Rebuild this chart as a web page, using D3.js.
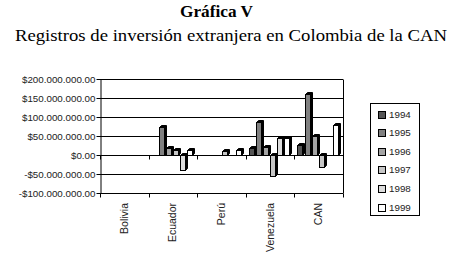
<!DOCTYPE html>
<html><head><meta charset="utf-8">
<script src="https://cdn.jsdelivr.net/npm/d3@7"></script>
<style>body{margin:0;background:#fff}svg{display:block}</style>
</head><body>
<script>
const categories = ["Bolivia", "Ecuador", "Perú", "Venezuela", "CAN"];
const years = ["1994", "1995", "1996", "1997", "1998", "1999"];
// values in millions of US$
const v1994 = [0, 0, 0, 18, 26];
const v1995 = [0, 74, 0, 88, 160];
const v1996 = [0, 18, 0, 22, 49];
const v1997 = [0, 14, 10, -55, -32];
const v1998 = [0, -39, 0, 44, 0];
const v1999 = [0, 13, 12, 44, 79];
const yTicks = [-100, -50, 0, 50, 100, 150, 200];
const colors = ["#555555", "#808080", "#a4a4a4", "#c6c6c6", "#dcdcdc", "#ffffff"];
const series = [v1994, v1995, v1996, v1997, v1998, v1999];

const W = 451, H = 270;
const svg = d3.select("body").append("svg").attr("width", W).attr("height", H);
svg.append("rect").attr("width", W).attr("height", H).attr("fill", "#fff");

svg.append("text").attr("x", 216.5).attr("y", 17).attr("text-anchor", "middle")
  .attr("font-family", "Liberation Serif").attr("font-weight", "bold").attr("font-size", 16)
  .attr("textLength", 73).attr("lengthAdjust", "spacingAndGlyphs")
  .text("Gráfica V");
svg.append("text").attr("x", 231).attr("y", 41).attr("text-anchor", "middle")
  .attr("font-family", "Liberation Serif").attr("font-size", 16)
  .attr("textLength", 432).attr("lengthAdjust", "spacingAndGlyphs")
  .text("Registros de inversión extranjera en Colombia de la CAN");

const x0 = 100, x1 = 343;
const y = d3.scaleLinear().domain([-100, 200]).range([193, 79]);
const x = d3.scaleBand().domain(categories).range([x0, x1]).padding(0);
const xs = d3.scaleBand().domain(years).range([0, x.bandwidth()]).paddingInner(0).paddingOuter(0.43);

function fmt(d) {
  if (d === 0) return "$0.00";
  const s = d3.format(",")(Math.abs(d) * 1000000).replace(/,/g, ".");
  return (d < 0 ? "-" : "") + "$" + s + ".00";
}

// gridlines
svg.append("g").selectAll("line").data(yTicks).join("line")
  .attr("x1", x0).attr("x2", x1).attr("y1", d => Math.round(y(d)) + 0.5).attr("y2", d => Math.round(y(d)) + 0.5)
  .attr("stroke", "#000").attr("stroke-width", 1);
// right border
svg.append("line").attr("x1", x1 + 0.5).attr("x2", x1 + 0.5).attr("y1", Math.round(y(200)) + 0.5).attr("y2", Math.round(y(-100)) + 0.5)
  .attr("stroke", "#000");

// y axis
const yAxis = d3.axisLeft(y).tickValues(yTicks).tickFormat(fmt).tickSize(4).tickSizeOuter(0);
const ga = svg.append("g").attr("transform", `translate(${x0 + 0.5},0.5)`).call(yAxis);
ga.selectAll("text").attr("font-family", "Liberation Sans, Arial").attr("font-size", 9.8).attr("fill", "#222").attr("x", -5);
ga.selectAll("line,path").attr("stroke", "#000");
ga.selectAll(".tick").attr("transform", d => `translate(0,${Math.round(y(d))})`);

// category ticks at zero line and bottom
const bounds = categories.map(c => x(c)).concat([x1]);
[0, -100].forEach(v => {
  svg.append("g").selectAll("line").data(bounds).join("line")
    .attr("x1", d => Math.round(d) + 0.5).attr("x2", d => Math.round(d) + 0.5)
    .attr("y1", Math.round(y(v)) + 0.5).attr("y2", Math.round(y(v)) + 4.5)
    .attr("stroke", "#000");
});

// bars (3D-like)
const depth = 2;
series.forEach((vals, si) => {
  const g = svg.append("g");
  vals.forEach((v, ci) => {
    if (v === 0) return;
    const bx = Math.round(x(categories[ci]) + xs(years[si])) + 0.5;
    const bw = Math.round(xs.bandwidth()) - depth;
    const yt = Math.round(Math.min(y(v), y(0))) + 0.5, yb = Math.round(Math.max(y(v), y(0))) + 0.5;
    g.append("polygon")
      .attr("points", [[bx, yt], [bx + depth, yt - depth], [bx + bw + depth, yt - depth], [bx + bw + depth, yb - depth], [bx + bw, yb], [bx + bw, yt]].map(p => p.join(",")).join(" "))
      .attr("fill", "#000").attr("stroke", "#000").attr("stroke-width", 1);
    g.append("rect").attr("x", bx).attr("y", yt).attr("width", bw).attr("height", yb - yt)
      .attr("fill", colors[si]).attr("stroke", "#000").attr("stroke-width", 1);
  });
});

// category labels
svg.append("g").selectAll("text").data(categories).join("text")
  .attr("transform", d => `translate(${x(d) + x.bandwidth() / 2 + 3.5},203) rotate(-90)`)
  .attr("text-anchor", "end")
  .attr("font-family", "Liberation Sans, Arial").attr("font-size", 10.5).attr("fill", "#222")
  .text(d => d);

// legend
const lg = svg.append("g");
lg.append("rect").attr("x", 370.5).attr("y", 103.5).attr("width", 49).attr("height", 112)
  .attr("fill", "#fff").attr("stroke", "#000");
const ly = d3.scalePoint().domain(years).range([114, 207]);
lg.selectAll("rect.sw").data(years).join("rect").attr("class", "sw")
  .attr("x", 378.5).attr("y", d => Math.round(ly(d) - 3.5) + 0.5).attr("width", 7).attr("height", 7)
  .attr("fill", (d, i) => colors[i]).attr("stroke", "#000");
lg.selectAll("text").data(years).join("text")
  .attr("x", 389).attr("y", d => ly(d) + 3.5)
  .attr("font-family", "Liberation Sans, Arial").attr("font-size", 9.8).attr("fill", "#222")
  .text(d => d);
</script>
</body></html>
